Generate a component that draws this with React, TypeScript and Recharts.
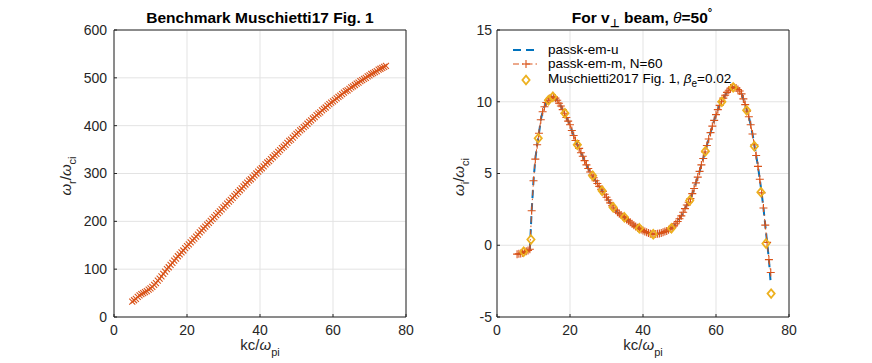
import React from 'react';
import { ComposedChart, ScatterChart, Scatter, Line, XAxis, YAxis, CartesianGrid } from 'recharts';

const FONT = '"Liberation Sans", Arial, Helvetica, sans-serif';
const AX = '#262626';
const BLUE = '#0072BD';
const RED = '#D95319';
const YELLOW = '#EDB120';

const kTicks = [0, 20, 40, 60, 80];
const omegaRTicks = [0, 100, 200, 300, 400, 500, 600];
const omegaITicks = [-5, 0, 5, 10, 15];

// left panel: real frequency
const kLeft = [
  5, 5.5, 6, 6.5, 7, 7.5, 8, 8.5, 9, 9.5,
  10, 10.5, 11, 11.5, 12, 12.5, 13, 13.5, 14, 14.5,
  15, 15.5, 16, 16.5, 17, 17.5, 18, 18.5, 19, 19.5,
  20, 20.5, 21, 21.5, 22, 22.5, 23, 23.5, 24, 24.5,
  25, 25.5, 26, 26.5, 27, 27.5, 28, 28.5, 29, 29.5,
  30, 30.5, 31, 31.5, 32, 32.5, 33, 33.5, 34, 34.5,
  35, 35.5, 36, 36.5, 37, 37.5, 38, 38.5, 39, 39.5,
  40, 40.5, 41, 41.5, 42, 42.5, 43, 43.5, 44, 44.5,
  45, 45.5, 46, 46.5, 47, 47.5, 48, 48.5, 49, 49.5,
  50, 50.5, 51, 51.5, 52, 52.5, 53, 53.5, 54, 54.5,
  55, 55.5, 56, 56.5, 57, 57.5, 58, 58.5, 59, 59.5,
  60, 60.5, 61, 61.5, 62, 62.5, 63, 63.5, 64, 64.5,
  65, 65.5, 66, 66.5, 67, 67.5, 68, 68.5, 69, 69.5,
  70, 70.5, 71, 71.5, 72, 72.5, 73, 73.5, 74, 74.5,
];
const omegaR = [
  32, 35, 38, 42, 45, 48, 50, 52, 54, 57,
  60, 63, 67, 71, 76, 80, 85, 90, 95, 100,
  104, 109, 113, 118, 122, 127, 131, 135, 139, 144,
  148, 152, 156, 160, 164, 168, 172, 177, 181, 185,
  189, 193, 197, 201, 205, 209, 213, 217, 221, 225,
  229, 233, 237, 241, 245, 249, 253, 257, 261, 265,
  269, 273, 277, 281, 285, 288, 292, 296, 300, 304,
  308, 311, 315, 319, 323, 326, 330, 334, 338, 341,
  345, 349, 353, 356, 360, 364, 368, 371, 375, 379,
  383, 386, 390, 393, 397, 400, 404, 408, 411, 415,
  418, 422, 425, 428, 432, 435, 438, 442, 445, 448,
  451, 454, 457, 460, 463, 466, 469, 472, 474, 477,
  480, 482, 485, 488, 490, 493, 495, 498, 500, 503,
  505, 508, 510, 512, 514, 517, 519, 521, 523, 525,
];

// right panel: growth rate
const kRight = [
  5.5, 6, 6.5, 7, 7.5, 8, 8.5, 9, 9.5, 10,
  10.5, 11, 11.5, 12, 12.5, 13, 13.5, 14, 14.5, 15,
  15.5, 16, 16.5, 17, 17.5, 18, 18.5, 19, 19.5, 20,
  20.5, 21, 21.5, 22, 22.5, 23, 23.5, 24, 24.5, 25,
  25.5, 26, 26.5, 27, 27.5, 28, 28.5, 29, 29.5, 30,
  30.5, 31, 31.5, 32, 32.5, 33, 33.5, 34, 34.5, 35,
  35.5, 36, 36.5, 37, 37.5, 38, 38.5, 39, 39.5, 40,
  40.5, 41, 41.5, 42, 42.5, 43, 43.5, 44, 44.5, 45,
  45.5, 46, 46.5, 47, 47.5, 48, 48.5, 49, 49.5, 50,
  50.5, 51, 51.5, 52, 52.5, 53, 53.5, 54, 54.5, 55,
  55.5, 56, 56.5, 57, 57.5, 58, 58.5, 59, 59.5, 60,
  60.5, 61, 61.5, 62, 62.5, 63, 63.5, 64, 64.5, 65,
  65.5, 66, 66.5, 67, 67.5, 68, 68.5, 69, 69.5, 70,
  70.5, 71, 71.5, 72, 72.5, 73, 73.5, 74, 74.5, 75,
];
const omegaIm = [
  -0.62, -0.6, -0.57, -0.52, -0.46, -0.42, -0.36, -0.28, 2.4, 4.5,
  6.0, 7.0, 7.8, 8.75, 9.3, 9.65, 9.95, 10.1, 10.25, 10.32,
  10.33, 10.25, 10.1, 9.9, 9.7, 9.45, 9.2, 8.9, 8.65, 8.4,
  8.0, 7.65, 7.3, 7.0, 6.75, 6.45, 6.2, 5.9, 5.6, 5.35,
  5.1, 4.9, 4.7, 4.5, 4.3, 4.1, 3.9, 3.75, 3.55, 3.35,
  3.15, 2.95, 2.75, 2.6, 2.45, 2.3, 2.2, 2.1, 2.0, 1.92,
  1.8, 1.7, 1.6, 1.5, 1.4, 1.3, 1.22, 1.16, 1.1, 1.02,
  0.96, 0.9, 0.85, 0.8, 0.78, 0.77, 0.78, 0.8, 0.82, 0.85,
  0.9, 0.95, 1.0, 1.08, 1.15, 1.22, 1.35, 1.5, 1.65, 1.85,
  2.05, 2.3, 2.55, 2.8, 3.0, 3.25, 3.6, 3.95, 4.35, 4.75,
  5.15, 5.6, 6.05, 6.5, 6.95, 7.4, 7.85, 8.3, 8.7, 9.1,
  9.45, 9.75, 10.0, 10.25, 10.45, 10.65, 10.8, 10.95, 11.02, 11.0,
  10.95, 10.85, 10.75, 10.55, 10.2, 9.8, 9.35, 8.95, 8.4, 7.75,
  7.0, 6.25, 5.5, 4.6, 3.65, 2.6, 1.4, 0.2, -1.0, -1.9,
];
const omegaIu = [
  -0.62, -0.6, -0.57, -0.52, -0.46, -0.42, -0.36, -0.28, 2.4, 4.5,
  6.0, 7.0, 7.8, 8.75, 9.3, 9.65, 9.95, 10.1, 10.25, 10.32,
  10.33, 10.25, 10.1, 9.9, 9.7, 9.45, 9.2, 8.9, 8.65, 8.4,
  8.0, 7.65, 7.3, 7.0, 6.75, 6.45, 6.2, 5.9, 5.6, 5.35,
  5.1, 4.9, 4.7, 4.5, 4.3, 4.1, 3.9, 3.75, 3.55, 3.35,
  3.15, 2.95, 2.75, 2.6, 2.45, 2.3, 2.2, 2.1, 2.0, 1.92,
  1.8, 1.7, 1.6, 1.5, 1.4, 1.3, 1.22, 1.16, 1.1, 1.02,
  0.96, 0.9, 0.85, 0.8, 0.78, 0.77, 0.78, 0.8, 0.82, 0.85,
  0.9, 0.95, 1.0, 1.08, 1.15, 1.22, 1.35, 1.5, 1.65, 1.85,
  2.05, 2.3, 2.55, 2.8, 3.0, 3.25, 3.6, 3.95, 4.35, 4.75,
  5.15, 5.6, 6.05, 6.5, 6.95, 7.4, 7.85, 8.3, 8.7, 9.1,
  9.45, 9.75, 10.0, 10.25, 10.45, 10.65, 10.8, 10.95, 11.02, 11.0,
  10.95, 10.85, 10.75, 10.55, 10.2, 9.8, 9.35, 8.95, 8.4, 7.75,
  7.0, 6.25, 5.5, 4.6, 3.65, 2.6, 1.4, 0.2, -1.0, -2.7,
];

const kMus = [7.3, 9.3, 11.3, 14.1, 15.3, 18.6, 22, 26.2, 28.8, 31.8, 34.9, 39, 42.8, 47.8, 52.8, 57.1, 61.6, 64.7, 68.4, 70.5, 72.3, 73.7, 75.1];
const omegaIMus = [-0.45, 0.4, 7.45, 10.1, 10.35, 9.2, 7.0, 4.85, 3.8, 2.65, 1.95, 1.18, 0.77, 1.18, 3.12, 6.55, 10.0, 11.0, 9.4, 6.9, 3.7, 0.12, -3.37];

const leftRows = kLeft.map((k, i) => ({ k, w: omegaR[i] }));
const rightRows = kRight.map((k, i) => ({ k, u: omegaIu[i], m: omegaIm[i] }));
const musRows = kMus.map((k, i) => ({ k, mus: omegaIMus[i] }));

const tickStyle = { fill: AX, fontSize: 14, fontFamily: FONT };

const XMark = (props: any) => {
  const { cx, cy } = props;
  if (cx == null || cy == null) return null;
  const s = 3;
  return (
    <path d={`M${cx - s},${cy - s}L${cx + s},${cy + s}M${cx - s},${cy + s}L${cx + s},${cy - s}`} stroke={RED} strokeWidth={1.1} fill="none" />
  );
};

const PlusMark = (props: any) => {
  const { cx, cy, index } = props;
  if (cx == null || cy == null) return <g key={`p${index}`} />;
  const s = 4;
  return (
    <path key={`p${index}`} d={`M${cx - s},${cy}L${cx + s},${cy}M${cx},${cy - s}L${cx},${cy + s}`} stroke={RED} strokeWidth={1.1} fill="none" />
  );
};

const Diamond = (props: any) => {
  const { cx, cy } = props;
  if (cx == null || cy == null) return null;
  return (
    <path d={`M${cx},${cy - 4.3}L${cx + 3.6},${cy}L${cx},${cy + 4.3}L${cx - 3.6},${cy}Z`} stroke={YELLOW} strokeWidth={1.8} fill="none" />
  );
};

const LeftPanel = () => (
  <ScatterChart width={436} height={363} margin={{ top: 29, right: 29, bottom: 0, left: 0 }}>
    <CartesianGrid stroke="#e3e3e3" />
    <XAxis type="number" dataKey="k" domain={[0, 80]} ticks={kTicks} tick={tickStyle} tickSize={-3} tickMargin={11} stroke={AX} height={46} />
    <YAxis type="number" dataKey="w" domain={[0, 600]} ticks={omegaRTicks} tick={tickStyle} tickSize={-3} tickMargin={10} stroke={AX} width={114} />
    <XAxis xAxisId="top" orientation="top" type="number" domain={[0, 80]} ticks={kTicks} tick={false} tickSize={-3} stroke={AX} height={1} />
    <YAxis yAxisId="right" orientation="right" type="number" domain={[0, 600]} ticks={omegaRTicks} tick={false} tickSize={-3} stroke={AX} width={1} />
    <Scatter data={leftRows} shape={<XMark />} isAnimationActive={false} />
  </ScatterChart>
);

const RightPanel = () => (
  <ComposedChart width={436} height={363} data={rightRows} margin={{ top: 29, right: 82, bottom: 0, left: 0 }}>
    <CartesianGrid stroke="#e3e3e3" />
    <XAxis type="number" dataKey="k" domain={[0, 80]} ticks={kTicks} tick={tickStyle} tickSize={-3} tickMargin={11} stroke={AX} height={46} />
    <YAxis type="number" domain={[-5, 15]} ticks={omegaITicks} tick={tickStyle} tickSize={-3} tickMargin={8} stroke={AX} width={61} />
    <XAxis xAxisId="top" orientation="top" type="number" domain={[0, 80]} ticks={kTicks} tick={false} tickSize={-3} stroke={AX} height={1} />
    <YAxis yAxisId="right" orientation="right" type="number" domain={[-5, 15]} ticks={omegaITicks} tick={false} tickSize={-3} stroke={AX} width={1} />
    <Line dataKey="u" stroke={BLUE} strokeWidth={2} strokeDasharray="8 5" dot={false} isAnimationActive={false} />
    <Line dataKey="m" stroke={RED} strokeWidth={1} strokeDasharray="6 3 1.5 3" dot={PlusMark} isAnimationActive={false} />
    <Scatter data={musRows} dataKey="mus" shape={<Diamond />} isAnimationActive={false} />
  </ComposedChart>
);

const Overlay = () => (
  <svg width={872} height={363} style={{ position: 'absolute', left: 0, top: 0, pointerEvents: 'none' }} fontFamily={FONT}>
    <text x={260} y={23} textAnchor="middle" fontSize={15.5} fontWeight="bold" fill="#000">Benchmark Muschietti17 Fig. 1</text>
    <text x={642} y={23} textAnchor="middle" fontSize={15.5} fontWeight="bold" fill="#000">
      For v<tspan dy={4} fontSize={11}>⊥</tspan><tspan dy={-4}> beam, </tspan><tspan fontStyle="italic" fontWeight="normal">θ</tspan>=50<tspan dy={-7} fontSize={11}>°</tspan>
    </text>

    <text x={260} y={350} textAnchor="middle" fontSize={15} fill={AX}>kc/<tspan fontStyle="italic">ω</tspan><tspan dy={6} fontSize={11}>pi</tspan></text>
    <text x={643} y={350} textAnchor="middle" fontSize={15} fill={AX}>kc/<tspan fontStyle="italic">ω</tspan><tspan dy={6} fontSize={11}>pi</tspan></text>

    <text transform="translate(71,176) rotate(-90)" textAnchor="middle" fontSize={15} fill={AX}>
      <tspan fontStyle="italic">ω</tspan><tspan dy={5} fontSize={11}>r</tspan><tspan dy={-5}>/</tspan><tspan fontStyle="italic">ω</tspan><tspan dy={5} fontSize={11}>ci</tspan>
    </text>
    <text transform="translate(464,177) rotate(-90)" textAnchor="middle" fontSize={15} fill={AX}>
      <tspan fontStyle="italic">ω</tspan><tspan dy={5} fontSize={11}>i</tspan><tspan dy={-5}>/</tspan><tspan fontStyle="italic">ω</tspan><tspan dy={5} fontSize={11}>ci</tspan>
    </text>

    {/* legend */}
    <line x1={513} y1={50} x2={539} y2={50} stroke={BLUE} strokeWidth={2} strokeDasharray="8 5" />
    <text x={548} y={54} fontSize={13.5} fill="#000">passk-em-u</text>
    <line x1={513} y1={64} x2={539} y2={64} stroke={RED} strokeWidth={1} strokeDasharray="6 3 1.5 3" />
    <path d="M522,64L530,64M526,60L526,68" stroke={RED} strokeWidth={1.1} />
    <text x={548} y={68} fontSize={13.5} fill="#000">passk-em-m, N=60</text>
    <path d="M526,75.7L529.6,80L526,84.3L522.4,80Z" stroke={YELLOW} strokeWidth={1.8} fill="none" />
    <text x={548} y={83} fontSize={13.5} fill="#000">
      Muschietti2017 Fig. 1, <tspan fontStyle="italic">β</tspan><tspan dy={4} fontSize={10}>e</tspan><tspan dy={-4}>=0.02</tspan>
    </text>
  </svg>
);

export default function App() {
  return (
    <div style={{ position: 'absolute', left: 0, top: 0, width: 872, height: 363, background: '#fff', fontFamily: FONT }}>
      <div style={{ position: 'absolute', left: 0, top: 0 }}>
        <LeftPanel />
      </div>
      <div style={{ position: 'absolute', left: 436, top: 0 }}>
        <RightPanel />
      </div>
      <Overlay />
    </div>
  );
}
